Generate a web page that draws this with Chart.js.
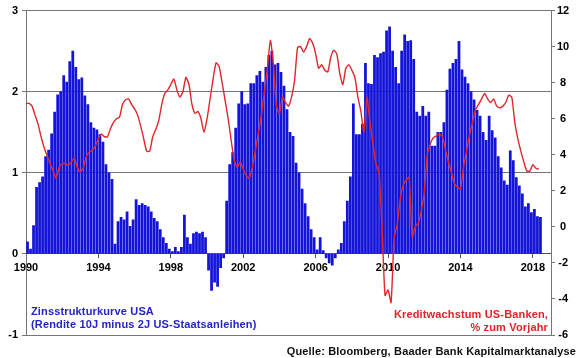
<!DOCTYPE html>
<html><head><meta charset="utf-8">
<script src="https://cdn.jsdelivr.net/npm/chart.js@4.4.1/dist/chart.umd.min.js"></script>
<style>
html,body{margin:0;padding:0;background:#fff;}
#wrap{position:relative;width:580px;height:358px;overflow:hidden;}
canvas{position:absolute;left:0;top:0;}
.t{position:absolute;font:bold 11px "Liberation Sans",Arial,sans-serif;line-height:13px;white-space:nowrap;letter-spacing:0.15px;}
</style></head><body>
<div id="wrap"><canvas id="c" width="580" height="358"></canvas>
<div class="t" style="left:31px;top:305px;color:#2424c8">Zinsstrukturkurve USA<br>(Rendite 10J minus 2J US-Staatsanleihen)</div>
<div class="t" style="right:32px;top:308px;color:#e32228;text-align:right">Kreditwachstum US-Banken,<br>% zum Vorjahr</div>
<div class="t" style="right:4px;top:345px;color:#111">Quelle: Bloomberg, Baader Bank Kapitalmarktanalyse</div>
</div>
<script>
// ---- data ----
const startYear = 1990;
const periodsPerYear = 6; // two-month periods
const xTickYears = [1990, 1994, 1998, 2002, 2006, 2010, 2014, 2018];
const leftTicks = [3, 2, 1, 0, -1];
const rightTicks = [12, 10, 8, 6, 4, 2, 0, -2, -4, -6];

// Yield curve USA, 10y minus 2y (percentage points), two-month periods from Jan 1990
const spread = [
  0.15,0.06,0.35,0.82,0.88,0.95,   // 1990
  1.20,1.28,1.48,1.75,1.96,2.00,   // 1991
  2.20,2.12,2.37,2.50,2.30,2.15,   // 1992
  2.17,1.95,1.84,1.62,1.55,1.53,   // 1993
  1.47,1.38,1.10,1.00,0.92,0.12,   // 1994
  0.40,0.45,0.42,0.52,0.34,0.42,   // 1995
  0.67,0.60,0.62,0.60,0.58,0.52,   // 1996
  0.44,0.40,0.30,0.20,0.13,0.06,   // 1997
  0.03,0.08,0.03,0.08,0.48,0.20,   // 1998
  0.12,0.25,0.27,0.25,0.27,0.20,   // 1999
  -0.20,-0.45,-0.35,-0.40,-0.17,-0.05, // 2000
  0.65,1.10,1.25,1.55,1.85,2.00,   // 2001
  1.84,1.85,2.10,2.10,2.20,2.25,   // 2002
  2.12,2.30,2.45,2.50,2.33,2.35,   // 2003
  2.24,2.07,1.78,1.50,1.45,1.12,   // 2004
  1.00,0.80,0.62,0.46,0.30,0.20,   // 2005
  0.05,0.20,0.04,-0.05,-0.11,-0.14, // 2006
  -0.05,0.05,0.13,0.40,0.65,0.95,  // 2007
  1.85,1.47,1.47,1.60,2.35,2.10,   // 2008
  2.09,2.45,2.42,2.47,2.49,2.75,   // 2009
  2.80,2.50,2.30,2.10,2.50,2.70,   // 2010
  2.62,2.63,2.40,1.75,1.70,1.82,   // 2011
  1.70,1.75,1.33,1.33,1.50,1.50,   // 2012
  1.62,2.02,2.28,2.35,2.40,2.62,   // 2013
  2.27,2.18,2.10,2.00,1.90,1.77,   // 2014
  1.70,1.50,1.40,1.70,1.52,1.43,   // 2015
  1.20,1.06,0.90,0.85,1.27,1.15,   // 2016
  0.94,0.84,0.74,0.58,0.62,0.51,   // 2017
  0.55,0.46,0.45                   // 2018
];

// Credit growth US banks, % y/y, two-month steps from Jan 1990
const credit = [
  6.85,6.85,6.7,6.2,5.7,5.0,       // 1990
  4.4,3.95,3.5,3.1,2.7,3.3,        // 1991
  3.5,3.5,3.4,3.6,3.8,3.3,         // 1992
  3.05,3.3,3.9,4.15,4.25,4.5,      // 1993
  4.9,5.15,5.0,5.0,5.45,5.8,       // 1994
  6.0,6.1,6.8,7.05,7.1,6.8,        // 1995
  6.55,6.2,5.6,4.9,4.2,4.2,        // 1996
  5.0,5.4,5.9,6.8,7.4,7.6,         // 1997
  7.9,8.2,7.6,7.2,7.5,8.3,         // 1998
  7.9,6.8,6.3,6.4,6.0,5.25,        // 1999
  6.0,7.1,8.2,9.1,8.9,8.0,         // 2000
  7.0,6.0,4.8,3.7,3.3,3.6,         // 2001
  3.2,2.85,2.7,3.3,4.2,5.2,        // 2002
  6.2,7.45,8.8,10.35,9.0,6.7,      // 2003
  6.3,7.2,6.9,6.7,7.2,8.1,         // 2004
  9.95,10.0,9.7,10.0,10.45,10.2,   // 2005
  9.6,8.8,9.0,8.7,8.6,9.4,         // 2006
  9.8,9.6,8.5,7.9,8.8,9.0,         // 2007
  8.7,8.3,7.2,6.4,5.25,7.2,        // 2008
  5.8,4.6,3.5,3.0,0.0,-3.8,        // 2009
  -3.5,-4.2,-0.6,0.1,1.5,2.3,      // 2010
  2.6,2.75,-0.6,0.0,0.2,0.9,       // 2011
  1.9,4.0,4.6,4.95,5.05,5.15,      // 2012
  5.0,4.3,3.6,3.0,2.4,2.2,         // 2013
  2.1,3.3,4.2,5.1,5.8,6.5,         // 2014
  6.8,7.1,7.4,7.1,6.9,7.1,         // 2015
  6.7,6.6,6.7,6.9,7.3,7.2,         // 2016
  5.8,4.9,4.2,3.6,3.1,3.1,         // 2017
  3.45,3.25,3.2                    // 2018
];

// ---- chart ----
const spreadPts = spread.map((v, i) => ({ x: startYear + (i + 0.5) / periodsPerYear, y: v }));
const creditPts = credit.map((v, i) => ({ x: startYear + i / periodsPerYear, y: v }));

const tickFont = { family: 'Liberation Sans, Arial, sans-serif', size: 11, weight: 'bold' };
const gridCol = '#757575';

new Chart(document.getElementById('c'), {
  type: 'bar',
  data: {
    datasets: [
      { type: 'line', data: creditPts, xAxisID: 'x', yAxisID: 'y2', borderColor: '#e3262b',
        borderWidth: 1.4, pointRadius: 0, tension: 0.2, order: 0 },
      { type: 'bar', data: spreadPts, xAxisID: 'x', yAxisID: 'y', backgroundColor: '#1414d8',
        barThickness: 2.1, order: 1 }
    ]
  },
  options: {
    responsive: false, animation: false, devicePixelRatio: 1,
    layout: { padding: { top: 10, bottom: 23, left: 0, right: 0 } },
    plugins: { legend: { display: false }, tooltip: { enabled: false } },
    scales: {
      x: {
        type: 'linear', position: { y: 0 }, min: 1990, max: 2019, offset: false,
        afterBuildTicks: s => { s.ticks = xTickYears.map(v => ({ value: v })); },
        ticks: { font: tickFont, color: '#000', padding: 3, maxRotation: 0, autoSkip: false,
                 callback: v => String(v) },
        grid: { drawOnChartArea: false, drawTicks: true, tickLength: 4, color: '#555', offset: false },
        border: { display: true, color: '#555', width: 1 }
      },
      y: {
        position: 'left', min: -1, max: 3,
        afterBuildTicks: s => { s.ticks = leftTicks.map(v => ({ value: v })); },
        afterFit: s => { s.width = 26; },
        ticks: { font: tickFont, color: '#000', padding: 4, callback: v => String(v) },
        grid: { color: gridCol, tickLength: 4 },
        border: { color: gridCol }
      },
      y2: {
        position: 'right', min: -6, max: 12,
        afterBuildTicks: s => { s.ticks = rightTicks.map(v => ({ value: v })); },
        afterFit: s => { s.width = 29; },
        ticks: { font: tickFont, color: '#000', padding: 2, crossAlign: 'center', callback: v => String(v) },
        grid: { drawOnChartArea: false, tickLength: 4, color: gridCol },
        border: { color: gridCol }
      }
    }
  }
});
</script>
</body></html>
